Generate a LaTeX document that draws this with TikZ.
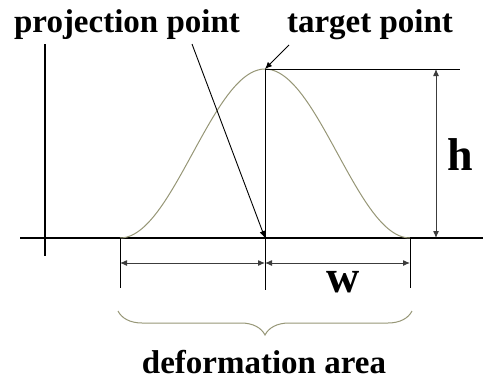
\documentclass[tikz,border=0pt]{standalone}
\usepackage{fontspec}
\setmainfont{Liberation Serif}
\usetikzlibrary{arrows.meta,decorations.pathreplacing}
\definecolor{curvecol}{RGB}{150,150,118}
\definecolor{dimcol}{RGB}{60,60,60}
\tikzset{
  lbl/.style={font=\fontsize{33}{36}\selectfont\bfseries, inner sep=0pt, anchor=base},
  biglbl/.style={font=\fontsize{46}{50}\selectfont\bfseries, inner sep=0pt, anchor=base},
  thin line/.style={line width=0.9pt, draw=black},
  axis/.style={line width=1.8pt, draw=black},
  dim/.style={line width=1pt, draw=dimcol, {Latex[length=7pt,width=6pt]}-{Latex[length=7pt,width=6pt]}},
  pointer/.style={line width=0.9pt, draw=black, -{Latex[length=7pt,width=6pt]}},
}
\begin{document}
\begin{tikzpicture}[x=1pt,y=-1pt]
\useasboundingbox (0,0) rectangle (483,380);
% coordinates
\coordinate (ytop) at (45,44);
\coordinate (ybot) at (45,256);
\coordinate (xl) at (20,238);
\coordinate (xr) at (483,238);
\coordinate (left) at (120,238);
\coordinate (right) at (410,238);
\coordinate (peak) at (265,69);
\coordinate (base) at (265,238);
\coordinate (peakdown) at (265,290);
\coordinate (lefttick) at (120,288);
\coordinate (righttick) at (410,288);
\coordinate (topend) at (460,69);
\coordinate (htop) at (436,69);
\coordinate (hbot) at (436,238);
\coordinate (dl) at (120,263);
\coordinate (dm) at (265,263);
\coordinate (dr) at (410,263);
\coordinate (pstart) at (192,44);
\coordinate (tstart) at (289,45);
\coordinate (bl) at (118,311);
\coordinate (br) at (412,311);
% axes
\draw[axis] (ytop) -- (ybot);
\draw[axis] (xl) -- (xr);
% curve (raised cosine)
\draw[curvecol, line width=1pt] plot[variable=\t, domain=-1:1, samples=81, smooth]
  ({265+145*\t}, {238-84.5*(1+cos(180*\t))});
% verticals and top line
\draw[thin line] (peak) -- (peakdown);
\draw[thin line] (left) -- (lefttick);
\draw[thin line] (right) -- (righttick);
\draw[thin line] (peak) -- (topend);
% h dimension
\draw[dim] (htop) -- (hbot);
% w dimensions
\draw[dim] (dl) -- (dm);
\draw[dim] (dm) -- (dr);
% pointers
\draw[pointer] (pstart) -- (base);
\draw[pointer] (tstart) -- (peak);
% brace
\draw[curvecol, line width=1pt, decorate, decoration={brace, amplitude=24pt, mirror}] (bl) -- (br);
% labels
\node[lbl] (ptext) at (127,33) {projection point};
\node[lbl] (ttext) at (370,33) {target point};
\node[biglbl] (hlabel) at (460,170) {h};
\node[biglbl] (wlabel) at (343,292) {w};
\node[lbl] (dtext) at (264,373) {deformation area};
\end{tikzpicture}
\end{document}
